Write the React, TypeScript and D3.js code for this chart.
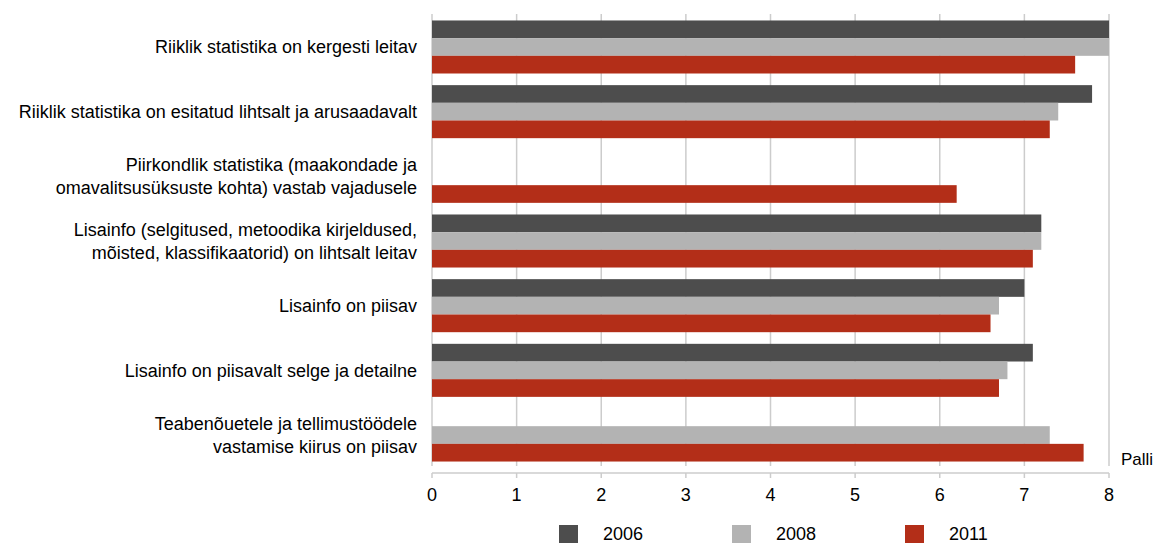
import React, { useEffect, useRef } from "react";
import * as d3 from "d3";

const categories: string[][] = [
  ["Riiklik statistika on kergesti leitav"],
  ["Riiklik statistika on esitatud lihtsalt ja arusaadavalt"],
  ["Piirkondlik statistika (maakondade ja", "omavalitsusüksuste kohta) vastab vajadusele"],
  ["Lisainfo (selgitused, metoodika kirjeldused,", "mõisted, klassifikaatorid) on lihtsalt leitav"],
  ["Lisainfo on piisav"],
  ["Lisainfo on piisavalt selge ja detailne"],
  ["Teabenõuetele ja tellimustöödele", "vastamise kiirus on piisav"],
];

const years = ["2006", "2008", "2011"];
const values2006: (number | null)[] = [8.0, 7.8, null, 7.2, 7.0, 7.1, null];
const values2008: (number | null)[] = [8.0, 7.4, null, 7.2, 6.7, 6.8, 7.3];
const values2011: (number | null)[] = [7.6, 7.3, 6.2, 7.1, 6.6, 6.7, 7.7];
const xTicks = [0, 1, 2, 3, 4, 5, 6, 7, 8];
const unitLabel = "Palli";

const colors = ["#4d4d4d", "#b3b3b3", "#b32e18"];

const Chart = () => {
  const svgRef = useRef<SVGSVGElement | null>(null);

  useEffect(() => {
    const svg = d3.select(svgRef.current);
    svg.selectAll("*").remove();
    const font = "'Liberation Sans', Arial, sans-serif";

    const left = 432;
    const right = 1109;
    const top = 14;
    const bottom = 468;
    const axisY = 473;

    const x = d3.scaleLinear().domain([0, 8]).range([left, right]);
    const y = d3
      .scaleBand<number>()
      .domain(d3.range(categories.length))
      .range([top, bottom])
      .paddingInner(0.18)
      .paddingOuter(0.1);
    const sub = d3.scaleBand<number>().domain([0, 1, 2]).range([0, y.bandwidth()]);

    // grid
    svg
      .append("g")
      .selectAll("line")
      .data(xTicks)
      .enter()
      .append("line")
      .attr("x1", (d) => x(d))
      .attr("x2", (d) => x(d))
      .attr("y1", top)
      .attr("y2", 466)
      .attr("stroke", "#cccccc")
      .attr("stroke-width", 1.5);

    // bars
    const series = [values2006, values2008, values2011];
    series.forEach((vals, si) => {
      svg
        .append("g")
        .selectAll("rect")
        .data(vals.map((v, i) => ({ v, i })).filter((d) => d.v !== null))
        .enter()
        .append("rect")
        .attr("x", x(0))
        .attr("y", (d) => (y(d.i) as number) + (sub(si) as number))
        .attr("width", (d) => x(d.v as number) - x(0))
        .attr("height", sub.bandwidth())
        .attr("fill", colors[si]);
    });

    // x axis
    const ax = svg.append("g").attr("transform", `translate(0,${axisY})`);
    ax.append("line")
      .attr("x1", left)
      .attr("x2", right)
      .attr("stroke", "#cccccc")
      .attr("stroke-width", 1.5);
    ax.selectAll(".tick")
      .data(xTicks)
      .enter()
      .append("line")
      .attr("x1", (d) => x(d))
      .attr("x2", (d) => x(d))
      .attr("y1", 0)
      .attr("y2", 5)
      .attr("stroke", "#cccccc")
      .attr("stroke-width", 1.5);
    ax.selectAll("text")
      .data(xTicks)
      .enter()
      .append("text")
      .attr("x", (d) => x(d))
      .attr("y", 28)
      .attr("text-anchor", "middle")
      .attr("font-family", font)
      .attr("font-size", 18)
      .attr("fill", "#000")
      .text((d) => d);

    svg
      .append("text")
      .attr("x", 1121)
      .attr("y", 465)
      .attr("font-family", font)
      .attr("font-size", 17)
      .text(unitLabel);

    // category labels
    const labels = svg.append("g");
    categories.forEach((lines, i) => {
      const cy = (y(i) as number) + y.bandwidth() / 2;
      const lh = 23;
      const t = labels
        .append("text")
        .attr("text-anchor", "end")
        .attr("font-family", font)
        .attr("font-size", 18)
        .attr("fill", "#000");
      lines.forEach((ln, j) => {
        t.append("tspan")
          .attr("x", 417)
          .attr("y", cy + (j - (lines.length - 1) / 2) * lh)
          .attr("dy", "0.35em")
          .text(ln);
      });
    });

    // legend
    const lx = d3.scaleOrdinal<string, number>().domain(years).range([559, 732, 905]);
    const leg = svg.append("g");
    years.forEach((yr, i) => {
      leg.append("rect")
        .attr("x", lx(yr))
        .attr("y", 525)
        .attr("width", 19)
        .attr("height", 19)
        .attr("fill", colors[i]);
      leg.append("text")
        .attr("x", lx(yr) + 44)
        .attr("y", 534)
        .attr("dy", "0.35em")
        .attr("font-family", font)
        .attr("font-size", 18)
        .text(yr);
    });
  }, []);

  return <svg ref={svgRef} width={1156} height={543} style={{ display: "block" }} />;
};

const App = () => (
  <div style={{ position: "fixed", left: 0, top: 0, width: 1156, height: 543, overflow: "hidden", background: "#fff" }}>
    <Chart />
  </div>
);

export default App;
